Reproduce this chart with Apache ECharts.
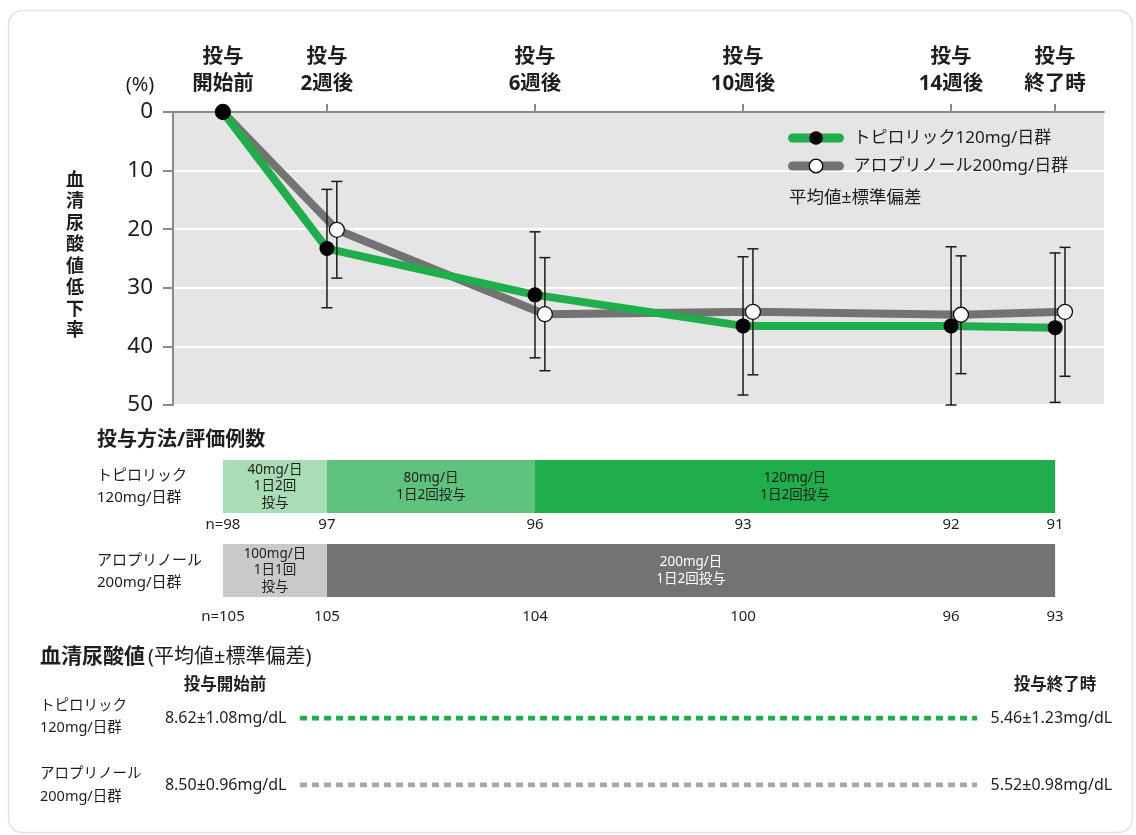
<!DOCTYPE html>
<html><head><meta charset="utf-8">
<script src="https://cdn.jsdelivr.net/npm/echarts@6/dist/echarts.min.js"></script>
<style>html,body{margin:0;padding:0;background:#fff;}#c{width:1136px;height:835px;}</style>
</head><body><div id="c"></div>
<script>
// ---- data ----
const weeks = [0, 2, 6, 10, 14, 16];
const weekLabels = ['投与\n開始前', '投与\n2週後', '投与\n6週後', '投与\n10週後', '投与\n14週後', '投与\n終了時'];
const seriesNames = ['トピロリック120mg/日群', 'アロプリノール200mg/日群'];
const topiroMean = [0, 23.3, 31.2, 36.5, 36.5, 36.8];
const topiroSD = [0, 10.1, 10.75, 11.8, 13.5, 12.75];
const alloMean = [0, 20.1, 34.5, 34.1, 34.6, 34.1];
const alloSD = [0, 8.25, 9.65, 10.75, 10.05, 11.0];
const alloShift = 0.19; // horizontal dodge of allopurinol points (weeks)

const tpDoseStart = [0, 2, 6];
const tpDoseEnd = [2, 6, 16];
const tpDoseLabel = ['40mg/日\n1日2回\n投与', '80mg/日\n1日2回投与', '120mg/日\n1日2回投与'];
const alDoseStart = [0, 2];
const alDoseEnd = [2, 16];
const alDoseLabel = ['100mg/日\n1日1回\n投与', '200mg/日\n1日2回投与'];
const tpN = [98, 97, 96, 93, 92, 91];
const alN = [105, 105, 104, 100, 96, 93];

const uaRowLabels = ['トピロリック\n120mg/日群', 'アロプリノール\n200mg/日群'];
const uaBaseline = ['8.62±1.08mg/dL', '8.50±0.96mg/dL'];
const uaEnd = ['5.46±1.23mg/dL', '5.52±0.98mg/dL'];

// ---- styles ----
const FONT = "'Noto Sans','Noto Sans CJK JP',sans-serif";
const GREEN = '#20ad4b', GRAY = '#737373';
const TXT = '#1e1e1e';
const XMIN = -0.96, XMAX = 16.94;

const chart = echarts.init(document.getElementById('c'));

const tpPts = weeks.map((w, i) => [w, topiroMean[i]]);
const alPts = weeks.map((w, i) => [i === 0 ? w : w + alloShift, alloMean[i]]);
const tpErr = weeks.map((w, i) => [w, topiroMean[i] - topiroSD[i], topiroMean[i] + topiroSD[i]]).filter((d, i) => topiroSD[i] > 0);
const alErr = weeks.map((w, i) => [i === 0 ? w : w + alloShift, alloMean[i] - alloSD[i], alloMean[i] + alloSD[i]]).filter((d, i) => alloSD[i] > 0);

function errRender(params, api) {
  const x = api.value(0), lo = api.value(1), hi = api.value(2);
  const a = api.coord([x, lo]), b = api.coord([x, hi]);
  const c = 5.5, st = { stroke: '#1a1a1a', lineWidth: 1.5 };
  return { type: 'group', children: [
    { type: 'line', shape: { x1: a[0], y1: a[1], x2: b[0], y2: b[1] }, style: st },
    { type: 'line', shape: { x1: a[0] - c, y1: a[1], x2: a[0] + c, y2: a[1] }, style: st },
    { type: 'line', shape: { x1: b[0] - c, y1: b[1], x2: b[0] + c, y2: b[1] }, style: st }
  ]};
}

// dosing segments
const segs = [];
tpDoseStart.forEach((s, i) => segs.push({ start: s, end: tpDoseEnd[i], row: 0, label: tpDoseLabel[i],
  color: ['#a8ddb6', '#5fc37e', GREEN][i], text: TXT }));
alDoseStart.forEach((s, i) => segs.push({ start: s, end: alDoseEnd[i], row: 1, label: alDoseLabel[i],
  color: ['#c9c9c9', GRAY][i], text: ['#1e1e1e', '#ffffff'][i] }));
const nItems = [];
weeks.forEach((w, i) => nItems.push({ week: w, row: 0, text: (i === 0 ? 'n=' : '') + tpN[i] }));
weeks.forEach((w, i) => nItems.push({ week: w, row: 1, text: (i === 0 ? 'n=' : '') + alN[i] }));
const nRowOffset = [65, 73];

function segRender(params, api) {
  const s = segs[params.dataIndex];
  const p0 = api.coord([s.start, s.row]), p1 = api.coord([s.end, s.row]);
  const band = api.size([0, 1])[1];
  const top = p0[1] - band / 2;
  const h = 53;
  return { type: 'group', children: [
    { type: 'rect', shape: { x: p0[0], y: top, width: p1[0] - p0[0], height: h }, style: { fill: s.color } },
    { type: 'text', style: { x: (p0[0] + p1[0]) / 2, y: top + h / 2, text: s.label, align: 'center', verticalAlign: 'middle',
      fill: s.text, fontSize: 13.5, lineHeight: 16.5, fontFamily: FONT } }
  ]};
}
function nRender(params, api) {
  const it = nItems[params.dataIndex];
  const p = api.coord([it.week, it.row]);
  const band = api.size([0, 1])[1];
  const top = p[1] - band / 2;
  return { type: 'text', style: { x: p[0], y: top + nRowOffset[it.row], text: it.text, align: 'center',
    verticalAlign: 'middle', fill: TXT, fontSize: 15, fontFamily: FONT } };
}

const option = {
  animation: false,
  textStyle: { fontFamily: FONT },
  grid: [
    { left: 173, top: 112, width: 931, height: 293, show: true, backgroundColor: '#e5e5e5', borderWidth: 0 },
    { left: 173, top: 460, width: 931, height: 168 },
    { left: 300, top: 718, width: 677, height: 67 }
  ],
  xAxis: [
    { gridIndex: 0, type: 'value', position: 'top', min: XMIN, max: XMAX,
      axisLine: { show: true, onZero: false, lineStyle: { color: '#8a8a8a', width: 2 } },
      axisTick: { show: true, customValues: weeks, length: 8, lineStyle: { color: '#8a8a8a', width: 2 } },
      axisLabel: { customValues: weeks, margin: 14, color: TXT, fontSize: 20.5, fontWeight: 'bold', lineHeight: 27, fontFamily: FONT,
        formatter: v => weekLabels[weeks.indexOf(v)] },
      splitLine: { show: false } },
    { gridIndex: 1, type: 'value', min: XMIN, max: XMAX, show: false },
    { gridIndex: 2, type: 'value', min: 0, max: 1, show: false }
  ],
  yAxis: [
    { gridIndex: 0, type: 'value', min: 0, max: 50, interval: 10, inverse: true,
      axisLine: { show: true, onZero: false, lineStyle: { color: '#8a8a8a', width: 2 } },
      axisTick: { show: true, length: 10, lineStyle: { color: '#8a8a8a', width: 2 } },
      axisLabel: { margin: 20, color: TXT, fontSize: 22.5, fontFamily: FONT },
      splitLine: { show: true, lineStyle: { color: '#ffffff', width: 2 } } },
    { gridIndex: 1, type: 'category', data: ['tp', 'al'], inverse: true, show: false },
    { gridIndex: 2, type: 'value', min: 0, max: 1, inverse: true, show: false }
  ],
  legend: {
    left: 788, top: 129.5, orient: 'vertical', padding: 0, itemWidth: 47, itemHeight: 17, itemGap: 11,
    textStyle: { fontSize: 17, color: TXT, fontFamily: FONT, padding: [0, 0, 0, 9] },
    data: [
      { name: seriesNames[0], itemStyle: { color: '#000', borderWidth: 0 }, lineStyle: { color: GREEN, width: 9, cap: 'round' } },
      { name: seriesNames[1], itemStyle: { color: '#fff', borderColor: '#000', borderWidth: 1.3 }, lineStyle: { color: GRAY, width: 9, cap: 'round' } }
    ]
  },
  series: [
    { name: seriesNames[1], type: 'line', xAxisIndex: 0, yAxisIndex: 0, data: alPts, symbol: 'none', z: 2,
      lineStyle: { color: GRAY, width: 8 }, itemStyle: { color: '#fff' } },
    { name: seriesNames[0], type: 'line', xAxisIndex: 0, yAxisIndex: 0, data: tpPts, symbol: 'none', z: 3,
      lineStyle: { color: GREEN, width: 8 }, itemStyle: { color: '#000' } },
    { type: 'custom', xAxisIndex: 0, yAxisIndex: 0, data: tpErr, renderItem: errRender, z: 4 },
    { type: 'custom', xAxisIndex: 0, yAxisIndex: 0, data: alErr, renderItem: errRender, z: 4 },
    { type: 'scatter', xAxisIndex: 0, yAxisIndex: 0, data: alPts, symbolSize: 15, z: 5,
      itemStyle: { color: '#fff', borderColor: '#111', borderWidth: 1.3, opacity: 1 } },
    { type: 'scatter', xAxisIndex: 0, yAxisIndex: 0, data: tpPts, symbolSize: 15, z: 6,
      itemStyle: { color: '#000', opacity: 1 } },
    { type: 'custom', xAxisIndex: 1, yAxisIndex: 1, data: segs.map(s => [s.start, s.row]), renderItem: segRender, z: 2 },
    { type: 'custom', xAxisIndex: 1, yAxisIndex: 1, data: nItems.map(n => [n.week, n.row]), renderItem: nRender, z: 2 },
    ...[0, 1].map(r => ({
      type: 'line', xAxisIndex: 2, yAxisIndex: 2, symbol: 'circle', symbolSize: 1, showSymbol: true,
      itemStyle: { color: r === 0 ? GREEN : '#a8a8a8' },
      lineStyle: { color: r === 0 ? GREEN : '#a8a8a8', width: 5, type: [7, 5], cap: 'butt' },
      label: { show: true, color: TXT, fontSize: 16, fontFamily: FONT },
      data: [
        { value: [0, r], label: { position: 'left', distance: 13, formatter: uaBaseline[r] } },
        { value: [1, r], label: { position: 'right', distance: 13, formatter: uaEnd[r] } }
      ]
    }))
  ],
  graphic: [
    { type: 'rect', shape: { x: 8.5, y: 10.5, width: 1124, height: 822, r: 14 }, style: { fill: 'none', stroke: '#e2e2e2', lineWidth: 1.5 }, z: -1 },
    { type: 'text', x: 140, y: 85, style: { text: '(%)', fontSize: 20, fill: TXT, align: 'center', verticalAlign: 'middle', fontFamily: FONT } },
    { type: 'text', x: 75, y: 256, style: { text: '血清尿酸値低下率'.split('').join('\n'), fontSize: 18, fontWeight: 'bold', lineHeight: 21.5,
      fill: TXT, align: 'center', verticalAlign: 'middle', fontFamily: FONT } },
    { type: 'text', x: 789, y: 198, style: { text: '平均値±標準偏差', fontSize: 17.5, fill: TXT, verticalAlign: 'middle', fontFamily: FONT } },
    { type: 'text', x: 97, y: 440, style: { text: '投与方法/評価例数', fontSize: 20, fontWeight: 'bold', fill: TXT, verticalAlign: 'middle', fontFamily: FONT } },
    { type: 'text', x: 97, y: 487, style: { text: 'トピロリック\n120mg/日群', fontSize: 15, lineHeight: 22, fill: TXT, verticalAlign: 'middle', fontFamily: FONT } },
    { type: 'text', x: 97, y: 572, style: { text: 'アロプリノール\n200mg/日群', fontSize: 15, lineHeight: 22, fill: TXT, verticalAlign: 'middle', fontFamily: FONT } },
    { type: 'text', x: 40, y: 657, style: { text: '{b|血清尿酸値}{r|(平均値±標準偏差)}', verticalAlign: 'middle', fontFamily: FONT,
      rich: { b: { fontSize: 21, fontWeight: 'bold', fill: TXT, fontFamily: FONT }, r: { fontSize: 20, fill: TXT, fontFamily: FONT, padding: [0, 0, 0, 3] } } } },
    { type: 'text', x: 225, y: 685, style: { text: '投与開始前', fontSize: 16.5, fontWeight: 'bold', fill: TXT, align: 'center', verticalAlign: 'middle', fontFamily: FONT } },
    { type: 'text', x: 1055, y: 685, style: { text: '投与終了時', fontSize: 16.5, fontWeight: 'bold', fill: TXT, align: 'center', verticalAlign: 'middle', fontFamily: FONT } },
    { type: 'text', x: 40, y: 717, style: { text: uaRowLabels[0], fontSize: 14.5, lineHeight: 22, fill: TXT, verticalAlign: 'middle', fontFamily: FONT } },
    { type: 'text', x: 40, y: 785, style: { text: uaRowLabels[1], fontSize: 14.5, lineHeight: 23, fill: TXT, verticalAlign: 'middle', fontFamily: FONT } }
  ]
};
chart.setOption(option);
</script>
</body></html>
